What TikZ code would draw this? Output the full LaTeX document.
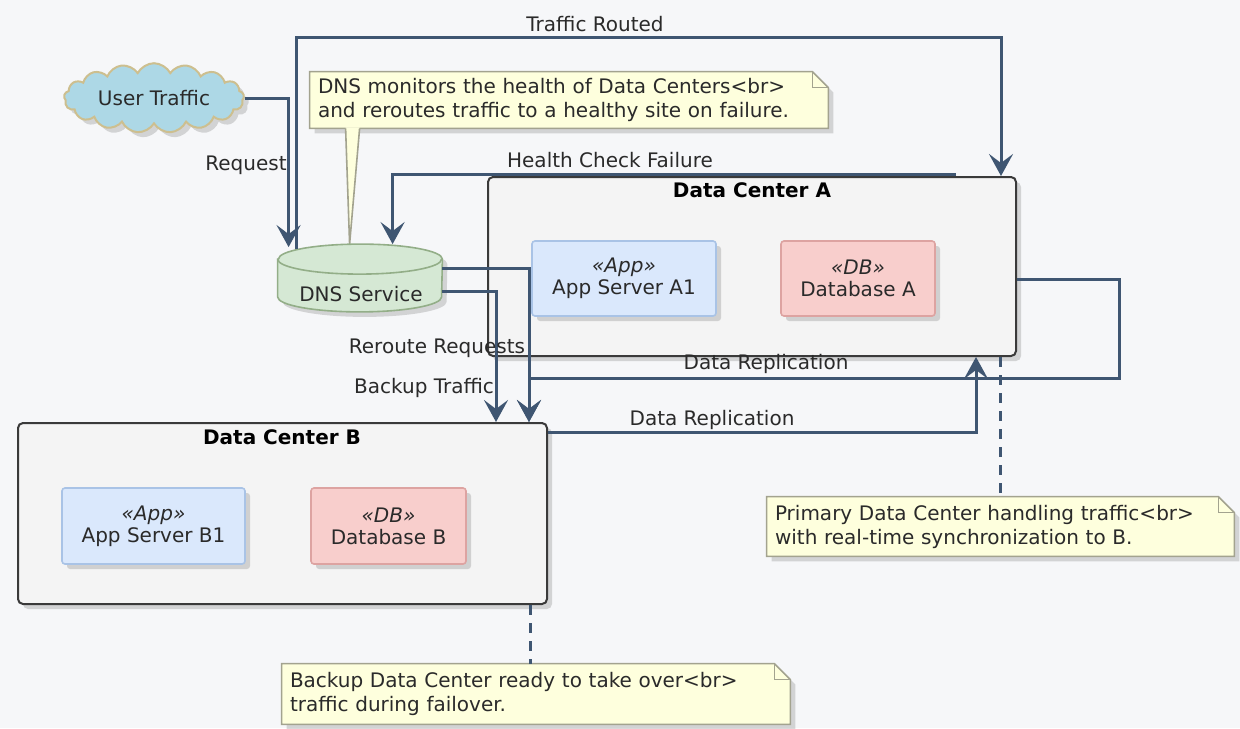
\documentclass[tikz,border=0pt]{standalone}
\usepackage{fontspec}
\setmainfont{DejaVu Sans}
\usetikzlibrary{arrows.meta,shapes.symbols,shadows,calc}
\definecolor{bgc}{HTML}{F6F7F9}
\definecolor{ln}{HTML}{3F5672}
\definecolor{txt}{HTML}{2A2A2A}
\definecolor{cloudf}{HTML}{ADD8E6}
\definecolor{cloudd}{HTML}{CDBF8F}
\definecolor{dnsf}{HTML}{D5E8D4}
\definecolor{dnsd}{HTML}{93AE88}
\definecolor{dcf}{HTML}{F4F4F4}
\definecolor{dcd}{HTML}{3A3A3A}
\definecolor{appf}{HTML}{DAE8FC}
\definecolor{appd}{HTML}{A9C3E6}
\definecolor{dbf}{HTML}{F8CECC}
\definecolor{dbd}{HTML}{DDA3A1}
\definecolor{notef}{HTML}{FEFFDD}
\definecolor{noted}{HTML}{A3A38F}
\pgfdeclarelayer{bglayer}
\pgfdeclarelayer{notelayer}
\pgfsetlayers{bglayer,notelayer,main}
\begin{document}
\begin{tikzpicture}[x=0.5pt,y=-0.5pt,
  font=\fontsize{10}{12}\selectfont, text=txt,
  shad/.style={drop shadow={opacity=0.3, shadow xshift=2.5pt, shadow yshift=-2.5pt}},
  conn/.style={draw=ln, line width=1.5pt, -{Stealth[length=11pt,width=12pt,inset=4.5pt]}},
  dashln/.style={draw=ln, line width=1.5pt, dash pattern=on 5pt off 4pt},
  dc/.style={draw=dcd, fill=dcf, line width=1pt, rounded corners=2.5pt, shad},
  app/.style={draw=appd, fill=appf, line width=0.8pt, rounded corners=1.5pt, shad, align=center, inner sep=0pt, font=\fontsize{10}{11}\selectfont},
  db/.style={draw=dbd, fill=dbf, line width=0.8pt, rounded corners=1.5pt, shad, align=center, inner sep=0pt, font=\fontsize{10}{11}\selectfont},
  notetext/.style={inner xsep=4pt, inner ysep=0pt, align=left},
  notestyle/.style={draw=noted, fill=notef, line width=0.8pt, shad},
  lbl/.style={inner sep=0pt},
  ttl/.style={inner sep=0pt, font=\fontsize{10}{12}\selectfont\bfseries, text=black}
]
\useasboundingbox (0,0) rectangle (1240,728);
\begin{pgfonlayer}{bglayer}
\fill[bgc] (0,0) rectangle (1240,728);
\end{pgfonlayer}

% containers
\node[dc, minimum width=264pt, minimum height=89.5pt] (dca) at (752,266.5) {};
\node[ttl] (dcat) at (752,190) {Data Center A};
\node[app, minimum width=92pt, minimum height=37.5pt] (appa) at (624,278.5) {\textit{«App»}\\App Server A1};
\node[db, minimum width=77pt, minimum height=37.5pt] (dba) at (858,278.5) {\textit{«DB»}\\Database A};

\node[dc, minimum width=264.5pt, minimum height=90.5pt] (dcb) at (282.5,513.5) {};
\node[ttl] (dcbt) at (282,437) {Data Center B};
\node[app, minimum width=91.5pt, minimum height=38pt] (appb) at (153.5,526) {\textit{«App»}\\App Server B1};
\node[db, minimum width=77.5pt, minimum height=38pt] (dbb) at (388.5,526) {\textit{«DB»}\\Database B};

% user cloud
\node[cloud, cloud puffs=17, cloud puff arc=125, aspect=3, draw=cloudd, fill=cloudf, line width=1pt, minimum width=90pt, minimum height=31pt, inner sep=0pt, shad] (user) at (154,98) {User Traffic};

% DNS cylinder
\node[minimum width=82pt, minimum height=33.5pt, inner sep=0pt] (dns) at (360,278) {};
\path[draw=dnsd, fill=dnsf, line width=0.8pt, shad] ($(dns.north west)+(0,15)$) -- ($(dns.south west)+(0,-15)$) arc (180:360:41pt and 7.5pt) -- ($(dns.north east)+(0,15)$) arc (0:180:41pt and 7.5pt) -- cycle;
\draw[dnsd, line width=0.8pt] ($(dns.north west)+(0,15)$) arc (180:360:41pt and 7.5pt);
\node[lbl] (dnst) at (361,294) {DNS Service};

% notes
\node[notetext, minimum width=259pt, minimum height=28pt, text width=251pt] (n1) at (569,100) {DNS monitors the health of Data Centers\textless br\textgreater\\and reroutes traffic to a healthy site on failure.};
\node[notetext, minimum width=233.5pt, minimum height=29.5pt, text width=225.5pt] (n2) at (1000.5,526.5) {Primary Data Center handling traffic\textless br\textgreater\\with real-time synchronization to B.};
\node[notetext, minimum width=254pt, minimum height=30pt, text width=246pt] (n3) at (536,694) {Backup Data Center ready to take over\textless br\textgreater\\traffic during failover.};
\begin{pgfonlayer}{notelayer}
\foreach \n in {n1,n2,n3}{
  \path[notestyle] (\n.north west) -- ($(\n.north east)+(-16,0)$) -- ($(\n.north east)+(0,16)$) -- (\n.south east) -- (\n.south west) -- cycle;
  \draw[noted, line width=0.8pt] ($(\n.north east)+(-16,0)$) -- ($(\n.north east)+(-16,16)$) -- ($(\n.north east)+(0,16)$);
}
\fill[notef] ($(n1.south west)+(36,-1)$) -- ($(dns.north west)+(72,0)$) -- ($(n1.south west)+(50,-1)$) -- cycle;
\draw[noted, line width=0.8pt] ($(n1.south west)+(36,0)$) -- ($(dns.north west)+(72,0)$) -- ($(n1.south west)+(50,0)$);
\end{pgfonlayer}

% connectors
\draw[conn] (user.east) -| ($(dns.north west)+(11,3)$);
\draw[conn] ($(dns.north west)+(19,5)$) |- (700,37) -| ($(dca.north west)+(514,0)$);
\draw[conn] ($(dca.north west)+(469,-2)$) -| ($(dns.north west)+(115,0)$);
\draw[conn] ($(dns.north east)+(0,24)$) -| ($(dcb.north west)+(512,0)$);
\draw[conn] ($(dns.north east)+(0,47)$) -| ($(dcb.north west)+(479,0)$);
\draw[conn] ($(dca.north east)+(0,103)$) -| ($(dca.south east)+(102,21)$) -| ($(dcb.north west)+(512,0)$);
\draw[conn] ($(dcb.north east)+(0,10)$) -| ($(dca.south west)+(489,0)$);

\coordinate (pa) at ($(dca.south west)+(513,0)$);
\coordinate (pb) at ($(dcb.south west)+(513,0)$);
\draw[dashln] (pa) -- (pa |- n2.north);
\draw[dashln] (pb) -- (pb |- n3.north);

% labels
\node[lbl, anchor=east] (lreq) at (287,165) {Request};
\node[lbl] (ltr) at (595,24) {Traffic Routed};
\node[lbl] (lhc) at (610,160) {Health Check Failure};
\node[lbl] (lrr) at (437,348) {Reroute Requests};
\node[lbl] (lbt) at (424,388) {Backup Traffic};
\node[lbl] (ldr1) at (766,364) {Data Replication};
\node[lbl] (ldr2) at (712,420) {Data Replication};
\end{tikzpicture}
\end{document}
